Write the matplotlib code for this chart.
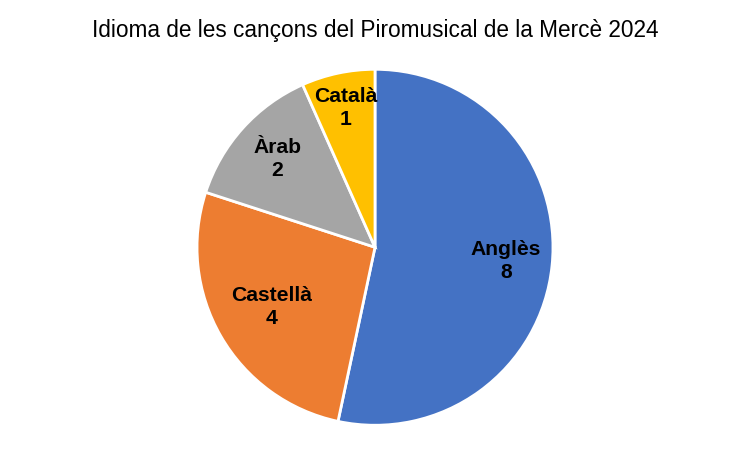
import numpy as np
import matplotlib.pyplot as plt

# ---- data ----
languages = ["Anglès", "Castellà", "Àrab", "Català"]
counts = [8, 4, 2, 1]
colors = ["#4472C4", "#ED7D31", "#A5A5A5", "#FFC000"]

# label distance from centre (fraction of radius), per slice
label_dist = [0.74, 0.67, 0.74, 0.80]

plt.rcParams['font.family'] = ['Liberation Sans', 'DejaVu Sans']

fig = plt.figure(figsize=(7.5, 4.5), dpi=100)
ax = fig.add_axes([0.5 - 178 / 750, 0.055, 356 / 750, 0.791])

wedges, _ = ax.pie(counts, colors=colors, startangle=90, counterclock=False,
                   wedgeprops=dict(edgecolor="white", linewidth=2))
ax.set_xlim(-1, 1)
ax.set_ylim(-1, 1)
ax.set_aspect("equal")

# labels inside each slice
for w, name, c, d in zip(wedges, languages, counts, label_dist):
    mid = np.deg2rad((w.theta1 + w.theta2) / 2)
    ax.text(d * np.cos(mid), d * np.sin(mid), f"{name}\n{c}",
            ha="center", va="center", fontsize=15.2, fontweight="bold",
            linespacing=1.3)

fig.text(0.5, 1 - 30 / 450, "Idioma de les cançons del Piromusical de la Mercè 2024",
         ha="center", va="center", fontsize=16.3)

fig.savefig("out.png", dpi=100)
